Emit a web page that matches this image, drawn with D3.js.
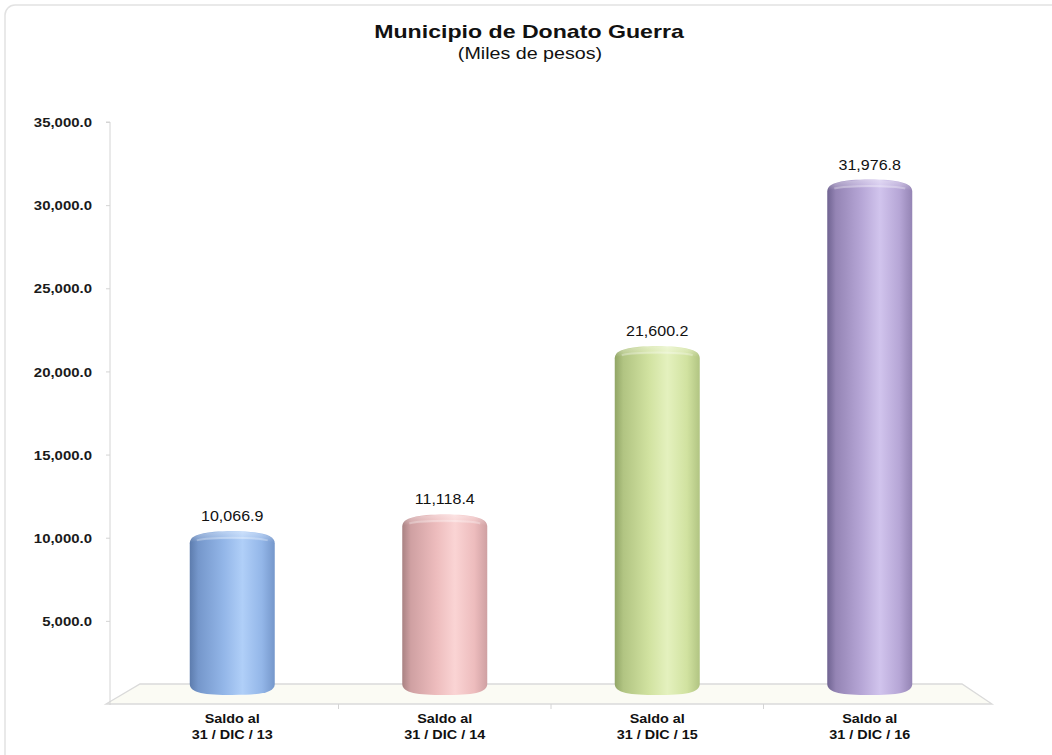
<!DOCTYPE html>
<html><head><meta charset="utf-8">
<script src="https://cdn.jsdelivr.net/npm/d3@7"></script>
<style>body{margin:0;background:#fff}svg{display:block}</style>
</head><body><svg id="c" width="1052" height="755"></svg>
<script>
const categories = ["Saldo al|31 / DIC / 13","Saldo al|31 / DIC / 14","Saldo al|31 / DIC / 15","Saldo al|31 / DIC / 16"];
const values = [10066.9, 11118.4, 21600.2, 31976.8];
const valueLabels = ["10,066.9","11,118.4","21,600.2","31,976.8"];
const tickValues = [5000,10000,15000,20000,25000,30000,35000];
const palette = [
  {dark:"#5d7cad", edge:"#7597cb", mid:"#93b6e8", light:"#b0cff8", top:"#a5c5f2"},
  {dark:"#a98283", edge:"#cfa0a2", mid:"#edbcbd", light:"#fad4d4", top:"#f3c8c8"},
  {dark:"#91a566", edge:"#b1c482", mid:"#d1e2a0", light:"#e4f1be", top:"#dbebb0"},
  {dark:"#6f6391", edge:"#9484b4", mid:"#b6a6d6", light:"#d1c4ed", top:"#c7b8e6"}
];
const FONT = "Liberation Sans, Arial, Helvetica, sans-serif";

const svg = d3.select("#c");
const defs = svg.append("defs");

svg.append("rect").attr("x",5).attr("y",5).attr("width",1070).attr("height",770)
  .attr("rx",10).attr("fill","#fff").attr("stroke","#e2e2e2").attr("stroke-width",1.5);

function stext(g, x, y, sx, txt, size, weight, anchor){
  return g.append("text").attr("transform",`translate(${x},${y}) scale(${sx},1)`)
    .attr("text-anchor",anchor||"middle").attr("font-family",FONT)
    .attr("font-weight",weight||"normal").attr("font-size",size).attr("fill","#111").text(txt);
}

stext(svg, 529, 38, 1.25, "Municipio de Donato Guerra", 18.5, "bold");
stext(svg, 530, 59, 1.23, "(Miles de pesos)", 16, "normal");

// front-plane axis scale and mid-depth bar scale (3D perspective)
const y = d3.scaleLinear().domain([0,35000]).range([704,122]);
const yBar = d3.scaleLinear().domain([0,35000]).range([693,131]);
const x = d3.scaleBand().domain(categories).range([126,976]);

// floor
const depth = 20, shift = 34;
const fx0 = 106, fx1 = x.range()[1]+16;
svg.append("path")
  .attr("d", `M${fx0},${y(0)} L${fx0+shift},${y(0)-depth} L${fx1-30},${y(0)-depth} L${fx1},${y(0)} Z`)
  .attr("fill","#fbfbf4").attr("stroke","#dadada").attr("stroke-width",1.3);

// y axis
const axX = 110, sxT = 1.15;
const yAxis = d3.axisLeft(y).tickValues(tickValues).tickSize(4).tickFormat(d3.format(",.1f"));
const ga = svg.append("g").attr("transform",`translate(${axX},0)`).call(yAxis);
ga.select(".domain").attr("stroke","#d4d4d4").attr("d",`M-4,${y(35000)}H0V${y(0)+1}`);
ga.selectAll(".tick line").attr("stroke","#d4d4d4");
ga.selectAll(".tick text").attr("font-family",FONT).attr("font-size",13).attr("font-weight","bold")
  .attr("fill","#1a1a1a").attr("x",-18/sxT).attr("dy","0.36em")
  .attr("transform",`scale(${sxT},1)`);

// separators on front edge
svg.append("g").attr("transform",`translate(0,${y(0)})`)
  .selectAll("line").data(x.domain().slice(1)).join("line")
  .attr("x1",d=>x(d)).attr("x2",d=>x(d)).attr("y1",0).attr("y2",5).attr("stroke","#d4d4d4");

// category labels
categories.forEach(c=>{
  const parts = c.split("|");
  const cx = x(c)+x.bandwidth()/2;
  parts.forEach((p,i)=>stext(svg, cx, 723+i*16, 1.2, p, 12, "bold"));
});

// cylinders
const bw = 85;
values.forEach((v,i)=>{
  const p = palette[i];
  const g = defs.append("linearGradient").attr("id","g"+i).attr("x1","0").attr("x2","1").attr("y1","0").attr("y2","0");
  [[0,p.dark],[0.1,p.edge],[0.4,p.mid],[0.62,p.light],[0.85,p.mid],[1,p.edge]].forEach(s=>
    g.append("stop").attr("offset",s[0]).attr("stop-color",s[1]));
  const gv = defs.append("linearGradient").attr("id","v"+i).attr("x1","0").attr("x2","0").attr("y1","0").attr("y2","1");
  gv.append("stop").attr("offset",0).attr("stop-color","#fff").attr("stop-opacity",0.35);
  gv.append("stop").attr("offset",1).attr("stop-color","#fff").attr("stop-opacity",0);
  const cx = x(categories[i]) + x.bandwidth()/2;
  const x0 = cx - bw/2, x1 = cx + bw/2;
  const top = yBar(v), bot = yBar(0);
  const d = `M${x0},${top+12} C${x0},${top+3} ${x0+bw*0.18},${top} ${cx},${top}
      C${x1-bw*0.18},${top} ${x1},${top+3} ${x1},${top+12}
      L${x1},${bot-9} C${x1},${bot} ${x1-bw*0.18},${bot+2} ${cx},${bot+2}
      C${x0+bw*0.18},${bot+2} ${x0},${bot} ${x0},${bot-9} Z`;
  svg.append("path").attr("d",d).attr("fill",`url(#g${i})`);
  // soft lighter cap
  svg.append("path")
    .attr("d",`M${x0+1},${top+11} C${x0+1},${top+3} ${x0+bw*0.18},${top+0.5} ${cx},${top+0.5}
      C${x1-bw*0.18},${top+0.5} ${x1-1},${top+3} ${x1-1},${top+11}
      C${x1-12},${top+7} ${x0+12},${top+7} ${x0+1},${top+11} Z`)
    .attr("fill",`url(#v${i})`);
  svg.append("path")
    .attr("d",`M${x0+7},${top+9} C${x0+20},${top+5.5} ${x1-20},${top+5.5} ${x1-7},${top+9}`)
    .attr("fill","none").attr("stroke","#fff").attr("stroke-opacity",0.28).attr("stroke-width",2);
  stext(svg, cx, top-10, 1.07, valueLabels[i], 15, "normal");
});
</script></body></html>
